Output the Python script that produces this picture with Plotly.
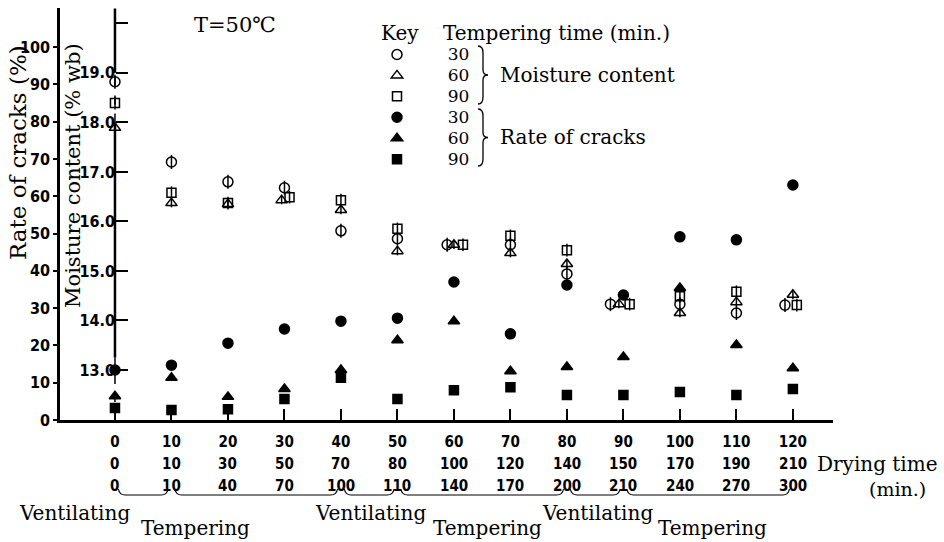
import plotly.graph_objects as go

# ---------------- data ----------------
drying_time_axis = [0, 10, 20, 30, 40, 50, 60, 70, 80, 90, 100, 110, 120]
drying_time_row2 = [0, 10, 30, 50, 70, 80, 100, 120, 140, 150, 170, 190, 210]
drying_time_row3 = [0, 10, 40, 70, 100, 110, 140, 170, 200, 210, 240, 270, 300]
tempering_times = [30, 60, 90]

# moisture content (% wb), inner axis
mc_30 = [18.82, 17.20, 16.80, 16.68, 15.81, 15.65, 15.53, 15.53, 14.94, 14.33, 14.33, 14.15, 14.31]
mc_60 = [17.89, 16.37, 16.35, 16.43, 16.23, 15.40, 15.53, 15.36, 15.14, 14.33, 14.15, 14.37, 14.52]
mc_90 = [18.39, 16.58, 16.37, 16.49, 16.43, 15.85, 15.53, 15.71, 15.42, 14.33, 14.49, 14.58, 14.31]
# rate of cracks (%)
rc_30 = [13.4, 14.7, 20.6, 24.4, 26.5, 27.3, 37.0, 23.1, 36.2, 33.5, 49.1, 48.3, 63.0]
rc_60 = [6.4, 11.3, 6.2, 8.3, 13.4, 21.4, 26.5, 13.1, 14.2, 16.9, 35.4, 20.1, 13.9]
rc_90 = [3.2, 2.7, 2.9, 5.6, 11.3, 5.6, 8.0, 8.8, 6.7, 6.7, 7.5, 6.7, 8.3]

rate_ticks = [0, 10, 20, 30, 40, 50, 60, 70, 80, 90, 100]
moisture_ticks = [13, 14, 15, 16, 17, 18, 19]

phase_names = ["Ventilating", "Tempering", "Ventilating", "Tempering", "Ventilating", "Tempering"]
phase_start = [0, 10, 40, 50, 80, 90]
phase_end = [10, 40, 50, 80, 90, 120]

# ---------------- layout helpers ----------------
W, H = 944, 542
L, R, T, B = 60, 111, 8, 122
PW, PH = W - L - R, H - T - B


def px_x(p):
    return (p - L) / PW


def px_y(p):
    return (H - B - p) / PH


# small horizontal dodges for markers printed side by side
dodge = {
    "mc30": {60: -1.2, 90: -2.3, 120: -1.4},
    "mc60": {30: -0.5, 90: -0.8},
    "mc90": {30: 0.9, 60: 1.6, 90: 1.1, 120: 0.7},
}


def xs(key):
    d = dodge.get(key, {})
    return [x + d.get(x, 0) for x in drying_time_axis]


SERIF = "DejaVu Serif, Liberation Serif, serif"
NUMF = dict(family="Liberation Sans Narrow, DejaVu Sans Condensed, sans-serif", size=16, color="black", weight="bold")
ROWF = dict(family="Liberation Sans Narrow, DejaVu Sans Condensed, sans-serif", size=15, color="black", weight="bold")

fig = go.Figure()

LW = 1.5
series = [
    ("mc30", mc_30, "y2", "circle-open", 10),
    ("mc60", mc_60, "y2", "triangle-up-open", 10),
    ("mc90", mc_90, "y2", "square-open", 9),
    ("rc30", rc_30, "y", "circle", 10),
    ("rc60", rc_60, "y", "triangle-up", 10),
    ("rc90", rc_90, "y", "square", 9),
]
for i, (key, vals, yax, sym, size) in enumerate(series):
    t = tempering_times[i % 3]
    fig.add_trace(go.Scatter(
        x=xs(key), y=vals, yaxis=yax, mode="markers",
        name="\u00a0" * 7 + f'<span style="font-size:17px">{t}</span>',
        marker=dict(symbol=sym, size=size, color="black", line=dict(color="black", width=LW)),
        cliponaxis=False,
    ))

# centre bars of the open symbols
for key, vals, size in [("mc30", mc_30, 10), ("mc60", mc_60, 6), ("mc90", mc_90, 9)]:
    fig.add_trace(go.Scatter(
        x=xs(key), y=vals, yaxis="y2", mode="markers", showlegend=False,
        marker=dict(symbol="line-ns-open", size=size, color="black", line=dict(color="black", width=LW)),
        cliponaxis=False, hoverinfo="skip",
    ))

shapes = []
# moisture axis line drawn at drying time 0
for y0, y1, dash in [(19.0, 20.3, "solid"), (18.0, 19.0, "dash"), (13.25, 18.0, "solid"), (11.99, 13.25, "dash")]:
    shapes.append(dict(type="line", xref="x", yref="y2", x0=0, x1=0, y0=y0, y1=y1,
                       line=dict(color="black", width=2.5 if dash == "solid" else 1.5, dash=dash)))

ROW1, ROW2, ROW3 = 441, 464, 486
# under-braces for the process phases (row 3)
yb, yh = px_y(ROW3 + 9), px_y(ROW3 + 3)
for a, b in zip(phase_start, phase_end):
    path = (f"M {a + 0.6},{yh} Q {a + 0.8},{yb} {a + 1.8},{yb} "
            f"L {b - 1.8},{yb} Q {b - 0.8},{yb} {b - 0.6},{yh}")
    shapes.append(dict(type="path", xref="x", yref="paper", path=path,
                       line=dict(color="black", width=1.2)))


# legend braces
def brace(xl, ytop, ybot):
    xm = xl + 5
    xt = xl + 10
    ym = (ytop + ybot) / 2
    pts = [
        f"M {px_x(xl)},{px_y(ytop)}",
        f"Q {px_x(xm)},{px_y(ytop)} {px_x(xm)},{px_y(ytop + 7)}",
        f"L {px_x(xm)},{px_y(ym - 5)}",
        f"Q {px_x(xm)},{px_y(ym)} {px_x(xt)},{px_y(ym)}",
        f"Q {px_x(xm)},{px_y(ym)} {px_x(xm)},{px_y(ym + 5)}",
        f"L {px_x(xm)},{px_y(ybot - 7)}",
        f"Q {px_x(xm)},{px_y(ybot)} {px_x(xl)},{px_y(ybot)}",
    ]
    return dict(type="path", xref="paper", yref="paper", path=" ".join(pts),
                line=dict(color="black", width=1.3))


shapes.append(brace(478, 46, 104))
shapes.append(brace(478, 109, 166))

ann = []


def text(s, x, y, size=20, xanchor="center", font=SERIF, angle=0, yanchor="middle"):
    ann.append(dict(text=s, x=px_x(x), y=px_y(y), xref="paper", yref="paper", showarrow=False,
                    xanchor=xanchor, yanchor=yanchor, textangle=angle,
                    font=dict(family=font, size=size, color="black")))


text("T=50℃", 235, 25, size=21)
text("Key", 400, 33, size=20)
text("Tempering time (min.)", 441, 33, size=20, xanchor="left")
text("Moisture content", 498, 75, size=20, xanchor="left")
text("Rate of cracks", 498, 137, size=20, xanchor="left")
text("Rate of cracks (%)", 18, 153, size=23, angle=-90)
text("Moisture content (% wb)", 73, 176, size=21, angle=-90)
text("Drying time", 815, ROW2, size=20, xanchor="left")
text("(min.)", 897, ROW3 + 3, size=19)

# rows 2 and 3 of drying-time labels
for xv, lab in zip(drying_time_axis, drying_time_row2):
    ann.append(dict(text=str(lab), x=xv, y=px_y(ROW2), xref="x", yref="paper", showarrow=False,
                    font=ROWF, yanchor="middle"))
for xv, lab in zip(drying_time_axis, drying_time_row3):
    ann.append(dict(text=str(lab), x=xv, y=px_y(ROW3), xref="x", yref="paper", showarrow=False,
                    font=ROWF, yanchor="middle"))

phase_label_px = [(74, 513), (195, 528), (370, 513), (487, 528), (597, 513), (712, 528)]
for name, (lx, ly) in zip(phase_names, phase_label_px):
    text(name, lx, ly, size=20)

fig.update_layout(
    width=W, height=H,
    margin=dict(l=L, r=R, t=T, b=B),
    plot_bgcolor="white", paper_bgcolor="white",
    showlegend=True,
    legend=dict(x=px_x(377), y=px_y(39), xanchor="left", yanchor="top",
                font=dict(family=SERIF, size=13.8, color="black"),
                bgcolor="rgba(0,0,0,0)", borderwidth=0, traceorder="normal"),
    xaxis=dict(range=[-9.73, 127.1], tickvals=drying_time_axis, ticks="inside", ticklen=11,
               tickwidth=1.5, tickcolor="black", showline=True, linewidth=2.5, linecolor="black",
               showgrid=False, zeroline=False, tickfont=ROWF, ticklabelstandoff=6),
    yaxis=dict(range=[0, 110.46], tickvals=rate_ticks, ticks="outside", ticklen=4, tickwidth=1.5,
               tickcolor="black", showline=True, linewidth=2.5, linecolor="black",
               showgrid=False, zeroline=False, tickfont=NUMF),
    yaxis2=dict(overlaying="y", anchor="free", position=px_x(115), side="left",
                range=[11.99, 20.31], tickvals=moisture_ticks + [20],
                ticktext=[f"{v:.1f}" for v in moisture_ticks] + [""],
                ticks="inside", ticklen=12, tickwidth=2, tickcolor="black",
                showline=False, showgrid=False, zeroline=False, tickfont=NUMF),
    shapes=shapes,
    annotations=ann,
)

fig.write_html("out.html")
